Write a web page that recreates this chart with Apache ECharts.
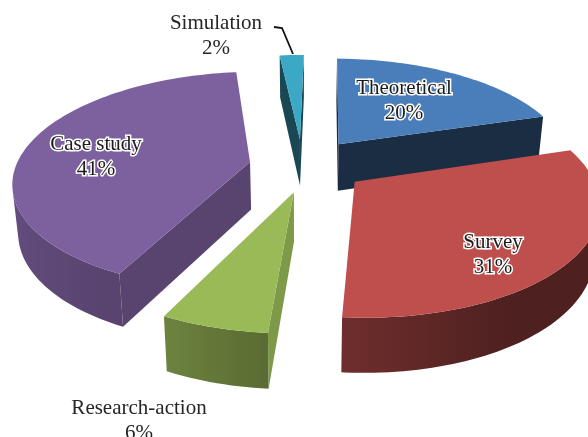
<!DOCTYPE html>
<html>
<head>
<meta charset="utf-8">
<style>html,body{margin:0;padding:0;background:#fff}#chart{width:588px;height:437px}</style>
<script src="https://cdn.jsdelivr.net/npm/echarts@6/dist/echarts.min.js"></script>
</head>
<body>
<div id="chart"></div>
<script>
// Research method shares, in percent, clockwise from twelve o'clock.
const categories = ['Theoretical', 'Survey', 'Research-action', 'Case study', 'Simulation'];
const shares = [20, 31, 6, 41, 2];

// How far each slice is pulled out of the pie (fraction of radius) and the
// compass direction of the pull, in degrees clockwise from twelve o'clock.
const pullAmount = [0.26, 0.255, 0.24, 0.235, 0.26];
const pullBearing = [36, 124, 190, 279, 356];
// Back-to-front painting rank of each slice.
const paintRank = [1, 4, 3, 2, 0];

// Slice styling.
const topColors = [[74, 126, 187], [191, 79, 77], [154, 186, 88], [125, 96, 158], [59, 169, 198]];
const radialShade = [0.36, 0.4, 0.82, 0.71, 0.42];
const wallShadeStops = [[90, 0.41], [150, 0.41], [183, 0.57], [205, 0.70], [270, 0.85], [360, 0.9]];

// Label centres and the leader line.
const labelCentres = [[404, 101], [493, 255], [139, 421], [96, 157], [216, 36]];
const labelOnSlice = [true, true, false, true, false];
const leaderLine = [[274, 27], [282, 28], [293, 54]];

// Perspective projection of the pie plane onto the page.
const view = { ox: 304, oy: 166, sx: 234, sy: 107, persp: 0.17, wallBase: 16, wallNear: 31.5, shrink: 0.98, turn: 1 };

function project(u, v, lower) {
  const w = 1 + view.persp * v;
  const x = view.ox + view.sx * u / w;
  const y = view.oy - view.sy * v / w;
  if (!lower) return [x, y];
  return [view.ox + (x - view.ox) * view.shrink, y + view.wallBase + view.wallNear / w];
}

function rimPoint(theta, off, lower) {
  const a = theta * Math.PI / 180;
  return project(Math.sin(a) + off[0], Math.cos(a) + off[1], lower);
}

function area(pts) {
  let s = 0;
  pts.forEach((p, i) => {
    const q = pts[(i + 1) % pts.length];
    s += p[0] * q[1] - q[0] * p[1];
  });
  return s;
}

function wallShade(theta) {
  for (let i = 1; i < wallShadeStops.length; i++) {
    const a = wallShadeStops[i - 1], b = wallShadeStops[i];
    if (theta <= b[0]) return a[1] + (b[1] - a[1]) * Math.max(0, theta - a[0]) / (b[0] - a[0]);
  }
  return 0.9;
}

function tint(rgb, k) {
  return 'rgb(' + rgb.map(c => Math.round(c * k)).join(',') + ')';
}

const total = shares.reduce((a, b) => a + b, 0);

function renderSlice(params, api) {
  const idx = params.dataIndex;
  const value = api.value(0);
  const before = shares.slice(0, idx).reduce((a, b) => a + b, 0);
  const t0 = before / total * 360 + view.turn;
  const t1 = t0 + value / total * 360;
  const bearing = pullBearing[idx] * Math.PI / 180;
  const off = [pullAmount[idx] * Math.sin(bearing), pullAmount[idx] * Math.cos(bearing)];
  const base = paintRank[idx] * 10;
  const children = [];
  const poly = (points, fill, z2) => children.push({
    type: 'polygon',
    shape: { points },
    z2,
    style: { fill }
  });

  const apexTop = project(off[0], off[1], false);
  const apexLow = project(off[0], off[1], true);

  // Flat faces along the two cut edges, only when they turn towards the viewer.
  [[t0, -1], [t1, 1]].forEach(([t, sign]) => {
    const quad = [apexTop, rimPoint(t, off, false), rimPoint(t, off, true), apexLow];
    if (area(quad) * sign > 0) poly(quad, tint(topColors[idx], radialShade[idx]), base + 1);
  });

  // Curved outer wall: the viewer-facing run of the rim, shaded along its width.
  const step = 1.5;
  const angles = [];
  for (let t = t0; t < t1; t += step) angles.push(t);
  angles.push(t1);
  const facing = [];
  for (let i = 0; i + 1 < angles.length; i++) {
    const a = angles[i], e = angles[i + 1];
    const quad = [rimPoint(a, off, false), rimPoint(e, off, false), rimPoint(e, off, true), rimPoint(a, off, true)];
    if (area(quad) < 0) {
      if (!facing.length) facing.push(a);
      facing.push(e);
    }
  }
  if (facing.length) {
    const upper = facing.map(t => rimPoint(t, off, false));
    const lower = facing.map(t => rimPoint(t, off, true));
    const xs = upper.concat(lower).map(p => p[0]);
    const xMin = Math.min(...xs), xMax = Math.max(...xs);
    const stops = facing.map((t, i) => ({
      offset: (upper[i][0] - xMin) / (xMax - xMin),
      color: tint(topColors[idx], wallShade(t))
    })).sort((a, b) => a.offset - b.offset);
    const fill = new echarts.graphic.LinearGradient(xMin, 0, xMax, 0, stops, true);
    poly(upper.concat(lower.reverse()), fill, base + 2);
  }

  // Top face.
  poly([apexTop].concat(angles.map(t => rimPoint(t, off, false))), tint(topColors[idx], 1), base + 3);

  // Two-line label: name and percentage.
  const onSlice = labelOnSlice[idx];
  children.push({
    type: 'text',
    z2: 100,
    style: {
      x: labelCentres[idx][0],
      y: labelCentres[idx][1],
      text: categories[idx] + '\n' + value + '%',
      align: 'center',
      verticalAlign: 'middle',
      font: '21px "Liberation Serif", serif',
      lineHeight: 25,
      fill: onSlice ? '#1c1c1c' : '#262626',
      stroke: onSlice ? '#ffffff' : null,
      lineWidth: onSlice ? 3 : 0
    }
  });
  return { type: 'group', children };
}

const chart = echarts.init(document.getElementById('chart'), null, { renderer: 'canvas' });
chart.setOption({
  animation: false,
  backgroundColor: '#ffffff',
  series: [{
    type: 'custom',
    coordinateSystem: 'none',
    silent: true,
    clip: false,
    data: categories.map((name, i) => ({ name, value: [shares[i]] })),
    renderItem: renderSlice
  }],
  graphic: [{
    type: 'polyline',
    z: 20,
    shape: { points: leaderLine },
    style: { stroke: '#111111', lineWidth: 1.8, fill: null }
  }]
});
</script>
</body>
</html>
